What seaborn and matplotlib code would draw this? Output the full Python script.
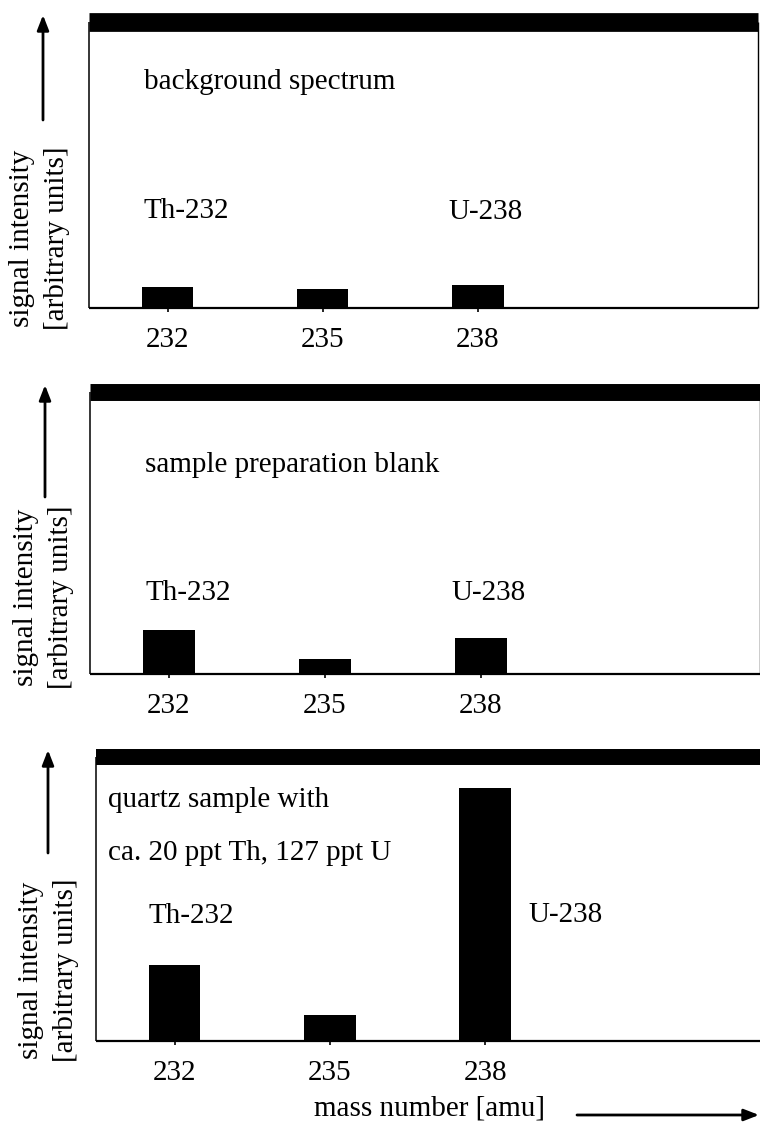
import matplotlib
matplotlib.use("Agg")
import matplotlib.pyplot as plt
import pandas as pd
import seaborn as sns

# mass numbers and signal heights (arbitrary units, 0-100 per panel)
masses = [232, 235, 238]
tick_labels = ["232", "235", "238"]
background = [7.3, 6.6, 8.0]
prep_blank = [15.6, 5.3, 12.7]
quartz = [26.8, 9.2, 89.1]

titles = [
    ["background spectrum"],
    ["sample preparation blank"],
    ["quartz sample with", "ca. 20 ppt Th, 127 ppt U"],
]
th_label = "Th-232"
u_label = "U-238"
ylabel_lines = ["signal intensity", "[arbitrary units]"]
xlabel = "mass number [amu]"

sns.set_theme(style="white")
plt.rcParams["font.family"] = ["Liberation Serif", "DejaVu Serif"]
plt.rcParams["text.color"] = "black"
plt.rcParams["xtick.color"] = "black"
plt.rcParams["xtick.labelcolor"] = "black"

W, H = 760, 1127
DPI = 100
fig = plt.figure(figsize=(W / DPI, H / DPI), dpi=DPI)
fig.patch.set_facecolor("white")

FS = 21

# panel frames in pixels: left, right, top, bottom, x of mass 232, px per amu, top band width
frames = [
    dict(l=89, r=758, t=22, b=308, x0=167.5, ppa=51.7, band=13.5),
    dict(l=90, r=760, t=391.5, b=674, x0=169.0, ppa=52.0, band=12.2),
    dict(l=96, r=775, t=757, b=1041, x0=174.5, ppa=51.8, band=11.5),
]
series = [background, prep_blank, quartz]

# text positions in data units (mass, intensity)
title_pos = [
    [(231.54, 76.6)],
    [(231.54, 71.5)],
    [(230.71, 82.4), (230.71, 63.7)],
]
th_pos = [(231.54, 31.5), (231.54, 26.2), (231.49, 41.5)]
u_pos = [(237.44, 31.0), (237.44, 26.2), (238.83, 41.9)]

# y-axis label / arrow layout in pixels
ylab = [
    dict(x1=22, x2=57, yc=238, ax=43, tip=15, tail=120),
    dict(x1=26, x2=61, yc=597, ax=45, tip=385, tail=497),
    dict(x1=31, x2=66, yc=970, ax=48, tip=750, tail=853),
]

for i, (fr, vals) in enumerate(zip(frames, series)):
    ax = fig.add_axes([fr["l"] / W, 1 - fr["b"] / H,
                       (fr["r"] - fr["l"]) / W, (fr["b"] - fr["t"]) / H])
    df = pd.DataFrame({"mass": masses, "signal": vals})
    sns.barplot(data=df, x="mass", y="signal", native_scale=True,
                width=1 / 3, color="black", saturation=1, linewidth=0,
                errorbar=None, ax=ax)
    x_left = 232 - (fr["x0"] - fr["l"]) / fr["ppa"]
    x_right = 232 + (fr["r"] - fr["x0"]) / fr["ppa"]
    ax.set_xlim(x_left, x_right)
    ax.set_ylim(0, 100)
    ax.set_facecolor("white")
    ax.set_xticks(masses)
    ax.set_xticklabels(tick_labels, fontsize=FS, color="black")
    ax.set_yticks([])
    ax.set_xlabel("")
    ax.set_ylabel("")
    ax.tick_params(axis="x", direction="out", length=3, width=1.2,
                   color="black", labelcolor="black", pad=11, bottom=True)
    for name, sp in ax.spines.items():
        sp.set_visible(True)
        sp.set_color("black")
        sp.set_capstyle("butt")
    ax.spines["top"].set_linewidth(fr["band"])
    ax.spines["bottom"].set_linewidth(1.6)
    ax.spines["left"].set_linewidth(1.1)
    ax.spines["right"].set_linewidth(1.0)

    for (tx, ty), line in zip(title_pos[i], titles[i]):
        ax.text(tx, ty, line, fontsize=FS, va="baseline", ha="left")
    ax.text(*th_pos[i], th_label, fontsize=FS, va="baseline", ha="left")
    ax.text(*u_pos[i], u_label, fontsize=FS, va="baseline", ha="left")

    yl = ylab[i]
    fig.text(yl["x1"] / W, 1 - yl["yc"] / H, ylabel_lines[0], rotation=90,
             ha="center", va="center", fontsize=FS)
    fig.text(yl["x2"] / W, 1 - yl["yc"] / H, ylabel_lines[1], rotation=90,
             ha="center", va="center", fontsize=FS)
    fig.add_artist(matplotlib.patches.FancyArrowPatch(
        (yl["ax"] / W, 1 - yl["tail"] / H), (yl["ax"] / W, 1 - yl["tip"] / H),
        transform=fig.transFigure, arrowstyle="-|>,head_length=9,head_width=3.5",
        mutation_scale=1, color="black", linewidth=2.0, shrinkA=0, shrinkB=0))

# mass axis caption with arrow
fig.text(430 / W, 1 - 1109 / H, xlabel, ha="center", va="center", fontsize=FS)
fig.add_artist(matplotlib.patches.FancyArrowPatch(
    (577 / W, 1 - 1115 / H), (759 / W, 1 - 1115 / H),
    transform=fig.transFigure, arrowstyle="-|>,head_length=9,head_width=3.5",
    mutation_scale=1, color="black", linewidth=2.0, shrinkA=0, shrinkB=0))

fig.savefig("out.png", dpi=DPI, facecolor="white")
